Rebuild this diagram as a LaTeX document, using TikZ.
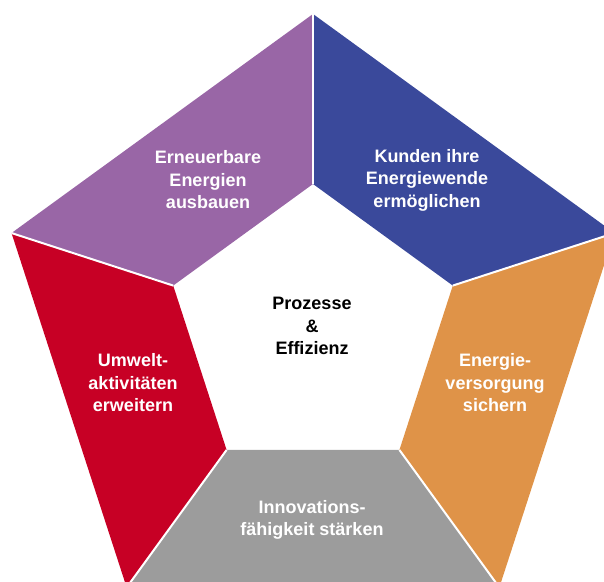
\documentclass[tikz,border=0pt]{standalone}
\usepackage{fontspec}
\setmainfont{Liberation Sans}
\usepackage{xcolor}
\usetikzlibrary{positioning}
\definecolor{lila}{RGB}{153,102,166}
\definecolor{navy}{RGB}{58,73,155}
\definecolor{crimson}{RGB}{199,0,37}
\definecolor{ochre}{RGB}{223,147,72}
\definecolor{stone}{RGB}{156,156,156}

\begin{document}
\begin{tikzpicture}[x=1pt,y=1pt,
    seg/.style={draw=none},
    gap/.style={white, line width=2pt},
    txt/.style={align=center, text=white, font=\fontsize{18}{22.5}\selectfont\bfseries}]

\path[use as bounding box] (0,0) rectangle (604,581);
\clip (0,0) rectangle (604,581);

\coordinate (m) at (313,250);
% outer corners
\coordinate (o1) at ([shift={(90:317)}]m);
\coordinate (o2) at ([shift={(162:317)}]m);
\coordinate (o3) at ([shift={(234:317)}]m);
\coordinate (o4) at ([shift={(306:317)}]m);
\coordinate (o5) at ([shift={(18:317)}]m);
% inner corners
\coordinate (i1) at ([shift={(90:147)}]m);
\coordinate (i2) at ([shift={(162:147)}]m);
\coordinate (i3) at ([shift={(234:147)}]m);
\coordinate (i4) at ([shift={(306:147)}]m);
\coordinate (i5) at ([shift={(18:147)}]m);

\fill[seg, lila]    (o1) -- (o2) -- (i2) -- (i1) -- cycle;
\fill[seg, crimson] (o2) -- (o3) -- (i3) -- (i2) -- cycle;
\fill[seg, stone]   (o3) -- (o4) -- (i4) -- (i3) -- cycle;
\fill[seg, ochre]   (o4) -- (o5) -- (i5) -- (i4) -- cycle;
\fill[seg, navy]    (o5) -- (o1) -- (i1) -- (i5) -- cycle;

\path[gap]
    (i1) edge (o1)
    (i2) edge (o2)
    (i3) edge (o3)
    (i4) edge (o4)
    (i5) edge (o5);

\node[txt] (ee) at (208,401) {Erneuerbare\\Energien\\ausbauen};
\node[txt] (kd) at (427,401) {Kunden ihre\\Energiewende\\ermöglichen};
\node[txt] (uw) at (133,198) {Umwelt-\\aktivitäten\\erweitern};
\node[txt] (ev) at (495,198) {Energie-\\versorgung\\sichern};
\node[txt] (in) at (312,61) {Innovations-\\fähigkeit stärken};
\node[txt, text=black] (pe) at (312,255) {Prozesse\\\&\\Effizienz};
\end{tikzpicture}
\end{document}
